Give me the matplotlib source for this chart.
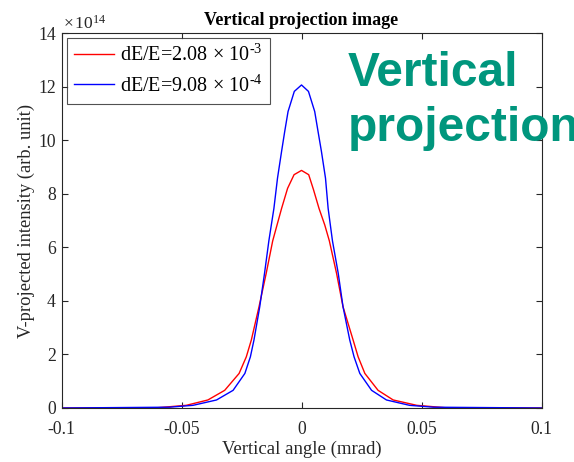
import matplotlib
matplotlib.use("Agg")
import matplotlib.pyplot as plt

plt.rcParams['font.family'] = ['Liberation Serif', 'DejaVu Serif']
plt.rcParams['mathtext.fontset'] = 'custom'
plt.rcParams['mathtext.rm'] = 'Liberation Serif'
plt.rcParams['mathtext.it'] = 'Liberation Serif:italic'

# Vertical angle (mrad) and projected intensity (x1e14, arb. unit)
angle_blue = [-0.100, -0.055, -0.0452, -0.0354, -0.0285, -0.0236, -0.0213, -0.0198,
              -0.0174, -0.0154, -0.0136, -0.0115, -0.0100, -0.0083, -0.0070, -0.0056,
              -0.0030, 0.0, 0.0029, 0.0055, 0.0069, 0.0083, 0.0100, 0.0111, 0.0129,
              0.0153, 0.0173, 0.0201, 0.0219, 0.0243, 0.0292, 0.0354, 0.045, 0.055,
              0.100]
intensity_blue = [0.0, 0.03, 0.10, 0.30, 0.66, 1.29, 1.91, 2.54,
                  3.78, 5.03, 6.24, 7.45, 8.58, 9.58, 10.32, 11.07,
                  11.82, 12.06, 11.82, 11.07, 10.32, 9.58, 8.58, 7.45, 6.24,
                  5.03, 3.78, 2.54, 1.91, 1.29, 0.66, 0.30, 0.10, 0.03,
                  0.0]

angle_red = [-0.100, -0.060, -0.048, -0.0390, -0.0320, -0.0260, -0.0230, -0.0209,
             -0.0177, -0.0147, -0.0120, -0.0102, -0.0083, -0.0058, -0.0031, 0.0,
             0.0030, 0.0050, 0.0073, 0.0097, 0.0116, 0.0146, 0.0173, 0.0215,
             0.0236, 0.0264, 0.0319, 0.0382, 0.048, 0.060, 0.100]
intensity_red = [0.0, 0.01, 0.10, 0.30, 0.66, 1.29, 1.91, 2.54,
                 3.78, 5.03, 6.24, 6.83, 7.45, 8.20, 8.71, 8.87,
                 8.71, 8.15, 7.45, 6.83, 6.24, 5.03, 3.78, 2.54,
                 1.91, 1.29, 0.66, 0.30, 0.10, 0.01, 0.0]

labels = ["dE/E=2.08$\\,\\times\\,$10$^{\u20103}$",
          "dE/E=9.08$\\,\\times\\,$10$^{\u20104}$"]
x_ticks = [-0.1, -0.05, 0, 0.05, 0.1]
x_tick_labels = ["-0.1", "-0.05", "0", "0.05", "0.1"]
y_ticks = [0, 2, 4, 6, 8, 10, 12, 14]

fig = plt.figure(figsize=(5.74, 4.62), dpi=100)
ax = fig.add_axes([61.5 / 574, 54 / 462, 480 / 574, 375 / 462])

ax.plot(angle_red, intensity_red, color='#ff0000', lw=1.0, label=labels[0],
        solid_joinstyle='round')
ax.plot(angle_blue, intensity_blue, color='#0000ff', lw=1.0, label=labels[1],
        solid_joinstyle='round')

ax.set_xlim(-0.1, 0.1)
ax.set_ylim(0, 14)
ax.set_xticks(x_ticks)
ax.set_xticklabels(x_tick_labels)
ax.set_yticks(y_ticks)
ax.tick_params(direction='in', top=True, right=True, length=4, width=0.8,
               colors='#262626', labelsize=12.7, labelcolor='#262626')
ax.tick_params(axis='x', pad=9)
ax.tick_params(axis='y', pad=4)
for s in ax.spines.values():
    s.set_color('#262626')
    s.set_linewidth(0.8)

ax.set_xlabel("Vertical angle (mrad)", fontsize=13.5, color='#262626', labelpad=2)
ax.set_ylabel("V-projected intensity (arb. unit)", fontsize=13.3, color='#262626',
              labelpad=2)
ax.set_title("Vertical projection image", fontsize=13, fontweight='bold', pad=6)

ax.text(0.003, 1.0, "$\\times\\,$10$^{14}$", transform=ax.transAxes, fontsize=12.5,
        color='#262626', ha='left', va='bottom')

leg = ax.legend(loc='upper left', fontsize=14.5, frameon=True, fancybox=False,
                edgecolor='#262626', handlelength=2.0, borderaxespad=0.25,
                borderpad=0.35, labelspacing=0.45, handletextpad=0.3)
leg.get_frame().set_linewidth(0.8)

teal = '#00967d'
fig.text(348 / 574, 1 - 86 / 462, "Vertical", fontsize=34.5, fontweight='bold',
         family='Liberation Sans', color=teal, ha='left', va='baseline')
fig.text(348 / 574, 1 - 141 / 462, "projection", fontsize=34.5, fontweight='bold',
         family='Liberation Sans', color=teal, ha='left', va='baseline')

fig.savefig("out.png", dpi=100)
